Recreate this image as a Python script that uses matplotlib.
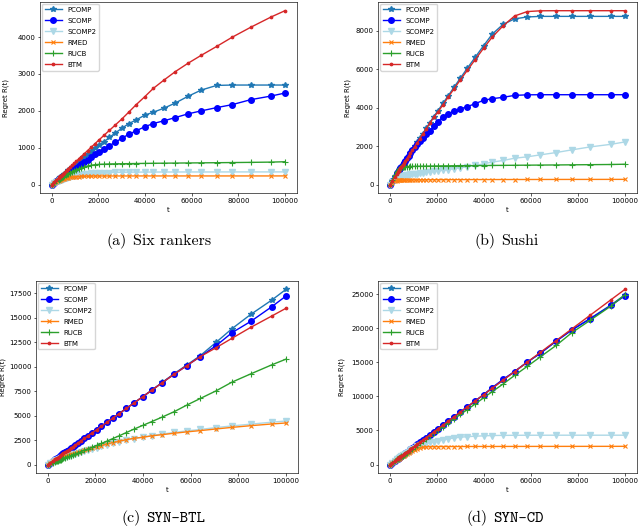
import matplotlib
matplotlib.use("Agg")
import matplotlib.pyplot as plt
from matplotlib.offsetbox import TextArea, HPacker, AnchoredOffsetbox

plt.rcParams.update({
    "font.size": 5.0,
    "axes.linewidth": 0.45,
    "xtick.major.width": 0.45,
    "ytick.major.width": 0.45,
    "xtick.major.size": 1.8,
    "ytick.major.size": 1.8,
    "xtick.major.pad": 1.6,
    "ytick.major.pad": 1.6,
    "lines.linewidth": 1.0,
    "legend.fontsize": 5.0,
})

# time steps where regret was recorded
t_steps = [0, 1000, 2000, 3040, 3350, 3680, 4050, 4460, 4900, 5390, 5930, 6520, 7180, 7890,
           8680, 9550, 10510, 11560, 12710, 13980, 15380, 16920, 18610, 20470, 22520, 24770,
           27240, 29970, 32960, 36260, 39890, 43560, 48090, 53040, 58420, 64070, 70720, 77370,
           85290, 94060, 100000]

algos = ["PCOMP", "SCOMP", "SCOMP2", "RMED", "RUCB", "BTM"]

# (a) Six rankers
six_pcomp = [0, 54, 108, 164, 181, 199, 219, 241, 265, 291, 320, 352, 388, 426, 469, 516, 568, 624, 686, 755,
             830, 912, 1000, 1085, 1165, 1281, 1399, 1523, 1649, 1757, 1883, 1963, 2071, 2214, 2394, 2563, 2690,
             2700, 2700, 2700, 2700]
six_scomp = [0, 44, 88, 134, 147, 162, 178, 196, 216, 237, 261, 287, 316, 347, 382, 420, 462, 508, 559, 615,
             677, 744, 819, 896, 968, 1057, 1146, 1254, 1361, 1461, 1568, 1657, 1730, 1819, 1918, 1999, 2088,
             2168, 2303, 2402, 2483]
six_scomp2 = [0, 35, 70, 100, 108, 117, 127, 137, 148, 159, 171, 183, 196, 209, 222, 235, 248, 260, 272, 283,
              293, 302, 310, 317, 323, 328, 332, 335, 337, 339, 340, 341, 342, 342, 343, 343, 343, 344, 344, 344, 345]
six_rmed = [0, 40, 75, 105, 113, 122, 131, 140, 149, 158, 167, 176, 185, 193, 201, 208, 214, 219, 223, 226,
            228, 230, 231, 232, 233, 233, 234, 234, 234, 235, 235, 235, 235, 235, 235, 235, 235, 235, 235, 235, 236]
six_rucb = [0, 45, 90, 135, 148, 162, 178, 195, 213, 232, 253, 275, 298, 322, 348, 375, 402, 428, 455, 480,
            505, 525, 540, 550, 555, 560, 563, 566, 569, 572, 575, 578, 581, 584, 587, 590, 594, 598, 603, 610, 620]
six_btm = [0, 60, 120, 183, 201, 221, 243, 268, 294, 323, 356, 391, 431, 473, 521, 573, 630, 693, 762, 838,
           921, 1012, 1112, 1222, 1342, 1472, 1615, 1772, 1960, 2170, 2383, 2609, 2833, 3066, 3290, 3505, 3747,
           3997, 4266, 4546, 4716]

# (b) Sushi
sushi_pcomp = [0, 190, 380, 578, 637, 699, 770, 847, 931, 1024, 1127, 1239, 1364, 1499, 1649, 1815, 1997, 2196,
               2415, 2656, 2922, 3215, 3536, 3850, 4220, 4620, 5060, 5540, 6060, 6620, 7230, 7830, 8330, 8620,
               8720, 8750, 8750, 8750, 8750, 8750, 8750]
sushi_scomp = [0, 190, 380, 578, 637, 699, 770, 847, 931, 1024, 1127, 1239, 1364, 1499, 1640, 1790, 1950, 2090,
               2250, 2425, 2632, 2786, 3024, 3282, 3524, 3679, 3818, 3937, 4056, 4211, 4386, 4469, 4540, 4640,
               4670, 4675, 4675, 4675, 4675, 4675, 4675]
sushi_scomp2 = [0, 150, 260, 340, 360, 380, 400, 420, 440, 455, 470, 485, 500, 515, 530, 545, 560, 575, 595, 615,
                640, 665, 690, 720, 750, 785, 825, 870, 930, 1000, 1080, 1170, 1254, 1373, 1445, 1548, 1667, 1806,
                1961, 2095, 2219]
sushi_rmed = [0, 100, 170, 210, 218, 225, 230, 235, 238, 240, 242, 244, 245, 246, 247, 248, 249, 250, 251, 252,
              253, 254, 255, 256, 257, 258, 259, 260, 261, 262, 263, 263, 264, 265, 266, 267, 268, 269, 270, 271, 272]
sushi_rucb = [0, 250, 480, 680, 730, 780, 830, 870, 900, 915, 925, 932, 937, 940, 943, 946, 949, 952, 955, 958,
              961, 964, 967, 970, 973, 976, 979, 982, 985, 989, 993, 997, 1001, 1006, 1011, 1016, 1022, 1029,
              1037, 1046, 1060]
sushi_btm = [0, 188, 376, 572, 630, 692, 761, 838, 921, 1013, 1115, 1226, 1350, 1483, 1632, 1795, 1976, 2173,
             2389, 2628, 2891, 3181, 3499, 3780, 4150, 4550, 4980, 5450, 5950, 6500, 7100, 7680, 8250, 8770,
             9000, 9040, 9045, 9045, 9045, 9045, 9045]

# (c) SYN-BTL
btl_pcomp = [0, 174, 348, 529, 583, 640, 705, 776, 853, 938, 1032, 1134, 1249, 1373, 1510, 1662, 1829, 2011,
             2212, 2433, 2676, 2944, 3238, 3562, 3918, 4310, 4740, 5215, 5735, 6309, 6941, 7580, 8400, 9290,
             10180, 11140, 12500, 13892, 15355, 16810, 17900]
btl_scomp = [0, 174, 348, 529, 583, 640, 705, 776, 853, 938, 1032, 1134, 1249, 1373, 1510, 1662, 1829, 2011,
             2212, 2433, 2676, 2944, 3238, 3562, 3918, 4310, 4740, 5215, 5735, 6309, 6941, 7580, 8380, 9230,
             10120, 11040, 12160, 13480, 14640, 16130, 17220]
btl_scomp2 = [0, 150, 290, 410, 440, 470, 505, 545, 585, 630, 675, 725, 780, 835, 895, 960, 1030, 1105, 1185,
              1270, 1360, 1460, 1570, 1700, 1850, 2010, 2170, 2330, 2500, 2660, 2800, 2960, 3120, 3280, 3440,
              3590, 3780, 3950, 4130, 4330, 4450]
btl_rmed = [0, 170, 320, 450, 485, 520, 560, 600, 645, 690, 740, 795, 850, 910, 975, 1045, 1120, 1200, 1285,
            1375, 1475, 1580, 1690, 1800, 1936, 2100, 2242, 2378, 2548, 2685, 2786, 2930, 3057, 3200, 3340, 3470,
            3638, 3800, 3974, 4147, 4249]
btl_rucb = [0, 95, 190, 289, 318, 350, 385, 424, 466, 512, 563, 619, 682, 750, 825, 907, 998, 1098, 1207, 1328,
            1461, 1607, 1768, 1950, 2160, 2390, 2650, 2940, 3270, 3630, 4005, 4382, 4860, 5400, 6083, 6756, 7540,
            8427, 9273, 10190, 10770]
btl_btm = [0, 174, 348, 529, 583, 640, 705, 776, 853, 938, 1032, 1134, 1249, 1373, 1510, 1662, 1829, 2011,
           2212, 2433, 2676, 2944, 3238, 3562, 3918, 4310, 4740, 5215, 5735, 6309, 6941, 7580, 8380, 9230,
           10120, 11040, 11950, 12910, 14030, 15180, 15970]

# (d) SYN-CD
cd_pcomp = [0, 257, 514, 781, 861, 946, 1041, 1146, 1259, 1385, 1524, 1676, 1845, 2028, 2231, 2454, 2701, 2971,
            3266, 3593, 3953, 4348, 4783, 5261, 5788, 6366, 7001, 7702, 8471, 9319, 10252, 11200, 12400, 13650,
            15020, 16340, 18100, 19750, 21450, 23400, 24900]
cd_scomp = [0, 257, 514, 781, 861, 946, 1041, 1146, 1259, 1385, 1524, 1676, 1845, 2028, 2231, 2454, 2701, 2971,
            3266, 3593, 3953, 4348, 4783, 5261, 5788, 6366, 7001, 7702, 8471, 9319, 10276, 11300, 12480, 13650,
            15020, 16340, 18100, 19720, 21390, 23340, 24750]
cd_scomp2 = [0, 250, 500, 760, 835, 915, 1005, 1105, 1210, 1330, 1455, 1595, 1745, 1910, 2085, 2270, 2460, 2650,
             2830, 2990, 3130, 3260, 3380, 3490, 3620, 3768, 3900, 4013, 4090, 4160, 4210, 4257, 4280, 4290,
             4300, 4300, 4305, 4305, 4305, 4306, 4306]
cd_rmed = [0, 240, 470, 700, 765, 835, 910, 995, 1085, 1185, 1290, 1405, 1530, 1665, 1810, 1965, 2130, 2300,
           2450, 2550, 2600, 2620, 2630, 2635, 2640, 2642, 2644, 2646, 2648, 2650, 2652, 2654, 2656, 2658, 2660,
           2662, 2664, 2666, 2668, 2670, 2672]
cd_rucb = [0, 245, 490, 745, 821, 902, 992, 1093, 1201, 1321, 1453, 1597, 1759, 1933, 2127, 2340, 2575, 2832,
           3114, 3425, 3768, 4145, 4559, 5015, 5517, 6069, 6674, 7343, 8075, 8884, 9790, 10700, 11800, 13070,
           14400, 15810, 17470, 19330, 21180, 23250, 24900]
cd_btm = [0, 257, 514, 781, 861, 946, 1041, 1146, 1259, 1385, 1524, 1676, 1845, 2028, 2231, 2454, 2701, 2971,
          3266, 3593, 3953, 4348, 4783, 5261, 5788, 6366, 7001, 7702, 8471, 9319, 10252, 11195, 12359, 13631,
          15014, 16466, 18175, 19884, 21920, 24174, 25690]

styles = {
    "PCOMP": dict(color="#1f77b4", marker="*", ms=3.8),
    "SCOMP": dict(color="blue", marker="o", ms=4.0),
    "SCOMP2": dict(color="lightblue", marker="v", ms=3.8),
    "RMED": dict(color="#ff7f0e", marker="x", ms=3.4, mew=0.8),
    "RUCB": dict(color="#2ca02c", marker="+", ms=4.0, mew=0.8),
    "BTM": dict(color="#d62728", marker=".", ms=3.4),
}

fig = plt.figure(figsize=(6.4, 5.29), dpi=100)

def panel(rect, series, ylab_x):
    ax = fig.add_axes(rect)
    for name, vals in zip(algos, series):
        ax.plot(t_steps, vals, label=name, **styles[name])
    ax.set_xlabel("t", labelpad=2.2)
    ax.set_ylabel("Regret R(t)")
    ax.yaxis.set_label_coords(ylab_x, 0.5)
    ax.legend(loc="upper left", handlelength=2.4, labelspacing=0.72, borderaxespad=0.3)
    return ax

def caption(x, y, parts):
    boxes = [TextArea(txt, textprops=dict(family=fam, size=11.5)) for txt, fam in parts]
    box = HPacker(children=boxes, align="baseline", pad=0, sep=4)
    anch = AnchoredOffsetbox(loc="center", child=box, frameon=False, bbox_to_anchor=(x, y),
                             bbox_transform=fig.transFigure, borderpad=0, pad=0)
    fig.add_artist(anch)

panel([0.0625, 0.6346, 0.401, 0.3616],
      [six_pcomp, six_scomp, six_scomp2, six_rmed, six_rucb, six_btm], -0.12)
panel([0.591, 0.6346, 0.4037, 0.3616],
      [sushi_pcomp, sushi_scomp, sushi_scomp2, sushi_rmed, sushi_rucb, sushi_btm], -0.106)
panel([0.05625, 0.1053, 0.409, 0.3641],
      [btl_pcomp, btl_scomp, btl_scomp2, btl_rmed, btl_rucb, btl_btm], -0.116)
panel([0.591, 0.1053, 0.4037, 0.3641],
      [cd_pcomp, cd_scomp, cd_scomp2, cd_rmed, cd_rucb, cd_btm], -0.129)

caption(0.248, 0.5444, [("(a)", "cmr10"), ("Six rankers", "cmr10")])
caption(0.792, 0.5444, [("(b)", "cmr10"), ("Sushi", "cmr10")])
caption(0.2555, 0.0217, [("(c)", "cmr10"), ("SYN-BTL", "cmtt10")])
caption(0.789, 0.0217, [("(d)", "cmr10"), ("SYN-CD", "cmtt10")])

fig.savefig("out.png", dpi=100)
